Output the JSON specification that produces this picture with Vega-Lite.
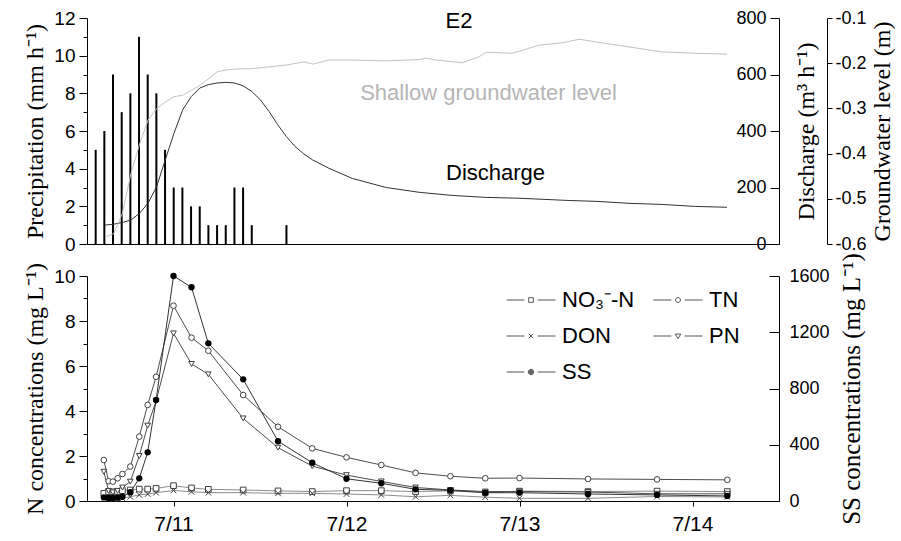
{
  "$schema": "https://vega.github.io/schema/vega-lite/v6.json",
  "padding": {"left": 23, "top": 9, "right": 0, "bottom": 0},
  "background": "white",
  "spacing": 32,
  "bounds": "flush",
  "config": {
    "view": {"stroke": null},
    "axis": {"grid": false, "domainColor": "black", "tickColor": "black", "labelColor": "black", "titleColor": "black", "labelFont": "Liberation Sans", "titleFont": "Liberation Serif", "titleFontWeight": "normal", "domainWidth": 1, "tickWidth": 1}
  },
  "datasets": {
    "precip": [
      {"h": 1, "p": 5}, {"h": 2, "p": 6}, {"h": 3, "p": 9}, {"h": 4, "p": 7}, {"h": 5, "p": 8},
      {"h": 6, "p": 11}, {"h": 7, "p": 9}, {"h": 8, "p": 8}, {"h": 9, "p": 5}, {"h": 10, "p": 3},
      {"h": 11, "p": 3}, {"h": 12, "p": 2}, {"h": 13, "p": 2}, {"h": 14, "p": 1}, {"h": 15, "p": 1},
      {"h": 16, "p": 1}, {"h": 17, "p": 3}, {"h": 18, "p": 3}, {"h": 19, "p": 1}, {"h": 23, "p": 1}
    ],
    "flow": [
      {"h": 2.08, "q": 67}, {"h": 3.07, "q": 70}, {"h": 4.07, "q": 76}, {"h": 5.07, "q": 85},
      {"h": 6.07, "q": 109}, {"h": 7.03, "q": 144}, {"h": 8.03, "q": 203}, {"h": 9.03, "q": 298},
      {"h": 10.03, "q": 392}, {"h": 11.03, "q": 475}, {"h": 12.03, "q": 522}, {"h": 13.0, "q": 552},
      {"h": 14.0, "q": 564}, {"h": 15.0, "q": 570}, {"h": 16.0, "q": 572}, {"h": 17.0, "q": 570},
      {"h": 18.0, "q": 560}, {"h": 19.0, "q": 540}, {"h": 20.0, "q": 510}, {"h": 21.0, "q": 469},
      {"h": 22.0, "q": 422}, {"h": 23.0, "q": 380}, {"h": 24.0, "q": 345}, {"h": 25.0, "q": 319},
      {"h": 26.0, "q": 298}, {"h": 27.9, "q": 268}, {"h": 30.6, "q": 232}, {"h": 34.5, "q": 200},
      {"h": 38.3, "q": 183}, {"h": 42.1, "q": 172}, {"h": 46.0, "q": 165}, {"h": 49.8, "q": 162},
      {"h": 55.6, "q": 154}, {"h": 58.7, "q": 151}, {"h": 62.5, "q": 144}, {"h": 66.3, "q": 140},
      {"h": 70.2, "q": 133}, {"h": 73.8, "q": 130}
    ],
    "gw": [
      {"h": 2.08, "g": -0.585}, {"h": 3.08, "g": -0.577}, {"h": 4.07, "g": -0.533}, {"h": 5.07, "g": -0.444},
      {"h": 6.08, "g": -0.378}, {"h": 7.04, "g": -0.326}, {"h": 8.04, "g": -0.3}, {"h": 9.03, "g": -0.286},
      {"h": 10.03, "g": -0.274}, {"h": 11.04, "g": -0.271}, {"h": 12.03, "g": -0.26}, {"h": 13.03, "g": -0.249},
      {"h": 14.04, "g": -0.234}, {"h": 15.03, "g": -0.219}, {"h": 16.03, "g": -0.215}, {"h": 17.04, "g": -0.213},
      {"h": 19.03, "g": -0.212}, {"h": 21.03, "g": -0.208}, {"h": 23.03, "g": -0.204}, {"h": 25.03, "g": -0.197},
      {"h": 26.03, "g": -0.202}, {"h": 27.91, "g": -0.193}, {"h": 30.56, "g": -0.193}, {"h": 34.49, "g": -0.195},
      {"h": 38.29, "g": -0.192}, {"h": 39.1, "g": -0.189}, {"h": 40.25, "g": -0.193}, {"h": 43.25, "g": -0.199},
      {"h": 45.21, "g": -0.186}, {"h": 46.02, "g": -0.176}, {"h": 49.02, "g": -0.178}, {"h": 50.63, "g": -0.169},
      {"h": 52.13, "g": -0.16}, {"h": 54.79, "g": -0.155}, {"h": 56.75, "g": -0.147}, {"h": 58.71, "g": -0.153},
      {"h": 62.51, "g": -0.164}, {"h": 66.32, "g": -0.175}, {"h": 70.24, "g": -0.178}, {"h": 73.82, "g": -0.18}
    ],
    "conc": [
      {"t": "2013-07-10T14:20", "NO3": 0.34, "TN": 1.82, "DON": 0.10, "PN": 1.30, "SS": 26},
      {"t": "2013-07-10T15:00", "NO3": 0.41, "TN": 0.88, "DON": 0.10, "PN": 0.45, "SS": 22},
      {"t": "2013-07-10T15:35", "NO3": 0.41, "TN": 0.86, "DON": 0.10, "PN": 0.38, "SS": 22},
      {"t": "2013-07-10T16:15", "NO3": 0.42, "TN": 1.01, "DON": 0.10, "PN": 0.45, "SS": 24},
      {"t": "2013-07-10T16:55", "NO3": 0.46, "TN": 1.20, "DON": 0.12, "PN": 0.60, "SS": 30},
      {"t": "2013-07-10T18:00", "NO3": 0.49, "TN": 1.53, "DON": 0.19, "PN": 0.86, "SS": 62},
      {"t": "2013-07-10T19:15", "NO3": 0.53, "TN": 2.86, "DON": 0.27, "PN": 2.00, "SS": 161},
      {"t": "2013-07-10T20:25", "NO3": 0.53, "TN": 4.27, "DON": 0.31, "PN": 3.35, "SS": 346},
      {"t": "2013-07-10T21:35", "NO3": 0.56, "TN": 5.52, "DON": 0.37, "PN": 4.45, "SS": 718},
      {"t": "2013-07-11T00:00", "NO3": 0.68, "TN": 8.68, "DON": 0.47, "PN": 7.45, "SS": 1600},
      {"t": "2013-07-11T02:30", "NO3": 0.58, "TN": 7.26, "DON": 0.41, "PN": 6.09, "SS": 1520},
      {"t": "2013-07-11T04:50", "NO3": 0.52, "TN": 6.68, "DON": 0.37, "PN": 5.63, "SS": 1121},
      {"t": "2013-07-11T09:40", "NO3": 0.49, "TN": 4.71, "DON": 0.37, "PN": 3.67, "SS": 865},
      {"t": "2013-07-11T14:30", "NO3": 0.45, "TN": 3.30, "DON": 0.34, "PN": 2.37, "SS": 425},
      {"t": "2013-07-11T19:15", "NO3": 0.42, "TN": 2.34, "DON": 0.34, "PN": 1.55, "SS": 272},
      {"t": "2013-07-12T00:00", "NO3": 0.46, "TN": 1.94, "DON": 0.31, "PN": 1.15, "SS": 158},
      {"t": "2013-07-12T04:50", "NO3": 0.46, "TN": 1.60, "DON": 0.27, "PN": 0.87, "SS": 126},
      {"t": "2013-07-12T09:35", "NO3": 0.42, "TN": 1.25, "DON": 0.19, "PN": 0.60, "SS": 83},
      {"t": "2013-07-12T14:25", "NO3": 0.45, "TN": 1.10, "DON": 0.25, "PN": 0.49, "SS": 76},
      {"t": "2013-07-12T19:15", "NO3": 0.38, "TN": 1.01, "DON": 0.17, "PN": 0.42, "SS": 59},
      {"t": "2013-07-13T00:00", "NO3": 0.44, "TN": 1.02, "DON": 0.12, "PN": 0.42, "SS": 59},
      {"t": "2013-07-13T09:30", "NO3": 0.42, "TN": 0.98, "DON": 0.12, "PN": 0.40, "SS": 50},
      {"t": "2013-07-13T19:05", "NO3": 0.44, "TN": 0.96, "DON": 0.20, "PN": 0.32, "SS": 43},
      {"t": "2013-07-14T04:50", "NO3": 0.42, "TN": 0.94, "DON": 0.18, "PN": 0.32, "SS": 36}
    ]
  },
  "vconcat": [
    {
      "width": 692,
      "height": 226,
      "encoding": {
        "x": {"field": "h", "type": "quantitative", "scale": {"domain": [0, 79.8], "nice": false, "zero": false},
              "axis": {"title": null, "labels": false, "ticks": false, "domainColor": "black"}}
      },
      "layer": [
        {
          "data": {"name": "precip"},
          "mark": {"type": "rule", "color": "black", "strokeWidth": 2},
          "encoding": {
            "y": {"field": "p", "type": "quantitative", "scale": {"domain": [0, 12], "nice": false},
                  "axis": {"orient": "left", "title": "Precipitation (mm h⁻¹)", "values": [0,1,2,3,4,5,6,7,8,9,10,11,12],
                           "labelExpr": "datum.value % 2 === 0 ? datum.label : ''", "labelOverlap": false,
                           "tickSize": {"condition": {"test": "datum.value % 2 === 0", "value": 8}, "value": 4},
                           "labelPadding": 4, "labelFontSize": 19, "titleFontSize": 24, "titlePadding": 6}},
            "y2": {"datum": 0}
          }
        },
        {
          "data": {"name": "flow"},
          "mark": {"type": "line", "color": "#333333", "strokeWidth": 1},
          "encoding": {
            "y": {"field": "q", "type": "quantitative", "scale": {"domain": [0, 800], "nice": false},
                  "axis": {"orient": "left", "offset": -692, "values": [0, 200, 400, 600, 800], "tickSize": 9, "labelPadding": 4,
                           "labelFontSize": 18, "title": "Discharge (m³ h⁻¹)", "titleFontSize": 24,
                           "titleX": 27, "titleY": 113, "titleAngle": -90, "titleAlign": "center", "titleBaseline": "middle"}}
          }
        },
        {
          "data": {"name": "gw"},
          "mark": {"type": "line", "color": "#c2c2c2", "strokeWidth": 1},
          "encoding": {
            "y": {"field": "g", "type": "quantitative", "scale": {"domain": [-0.6, -0.1], "nice": false, "zero": false},
                  "axis": {"orient": "right", "offset": 48, "values": [-0.6, -0.5, -0.4, -0.3, -0.2, -0.1], "format": ".1f",
                           "labelExpr": "replace(datum.label, '−', '-')",
                           "tickSize": 5, "labelPadding": 3, "labelFontSize": 18,
                           "title": "Groundwater level (m)", "titleFontSize": 24, "titleAngle": -90, "titleBaseline": "top", "titlePadding": 4}}
          }
        },
        {
          "data": {"values": [{"label": "E2", "h": 42.9, "p": 11.85}]},
          "mark": {"type": "text", "font": "Liberation Sans", "fontSize": 22, "color": "black", "align": "center", "baseline": "middle"},
          "encoding": {"text": {"field": "label", "type": "nominal"}, "y": {"field": "p", "type": "quantitative", "scale": {"domain": [0, 12], "nice": false}, "axis": null}}
        },
        {
          "data": {"values": [{"label": "Shallow groundwater level", "h": 31.5, "p": 8.0}]},
          "mark": {"type": "text", "font": "Liberation Sans", "fontSize": 22, "color": "#b5b5b5", "align": "left", "baseline": "middle"},
          "encoding": {"text": {"field": "label", "type": "nominal"}, "y": {"field": "p", "type": "quantitative", "scale": {"domain": [0, 12], "nice": false}, "axis": null}}
        },
        {
          "data": {"values": [{"label": "Discharge", "h": 41.4, "p": 3.78}]},
          "mark": {"type": "text", "font": "Liberation Sans", "fontSize": 22, "color": "black", "align": "left", "baseline": "middle"},
          "encoding": {"text": {"field": "label", "type": "nominal"}, "y": {"field": "p", "type": "quantitative", "scale": {"domain": [0, 12], "nice": false}, "axis": null}}
        }
      ],
      "resolve": {"scale": {"y": "independent"}, "axis": {"y": "independent"}}
    },
    {
      "width": 692,
      "height": 225,
      "data": {"name": "conc"},
      "encoding": {
        "x": {"field": "t", "type": "temporal",
              "scale": {"domain": [{"year": 2013, "month": 7, "date": 10, "hours": 12}, {"year": 2013, "month": 7, "date": 14, "hours": 12}], "nice": false},
              "axis": {"title": null, "values": [{"year": 2013, "month": 7, "date": 11}, {"year": 2013, "month": 7, "date": 12}, {"year": 2013, "month": 7, "date": 13}, {"year": 2013, "month": 7, "date": 14}],
                       "format": "%-m/%-d", "labelFontSize": 21, "tickSize": 5, "labelPadding": 7}}
      },
      "layer": [
        {
          "transform": [{"fold": ["NO3", "TN", "DON", "PN"], "as": ["series", "v"]}],
          "encoding": {
            "y": {"field": "v", "type": "quantitative", "scale": {"domain": [0, 10], "nice": false},
                  "axis": {"title": "N concentrations (mg L⁻¹)", "values": [0,1,2,3,4,5,6,7,8,9,10],
                           "labelExpr": "datum.value % 2 === 0 ? datum.label : ''", "labelOverlap": false,
                           "tickSize": {"condition": {"test": "datum.value % 2 === 0", "value": 8}, "value": 4},
                           "labelPadding": 4, "labelFontSize": 19, "titleFontSize": 24, "titlePadding": 6}}
          },
          "layer": [
            {
              "mark": {"type": "line", "strokeWidth": 1},
              "encoding": {
                "stroke": {"field": "series", "type": "nominal", "scale": {"domain": ["NO3", "TN", "DON", "PN"], "range": ["#8c8c8c", "#4d4d4d", "#8c8c8c", "#4d4d4d"]}, "legend": null}
              }
            },
            {
              "mark": {"type": "point", "fill": "white", "stroke": "#404040", "strokeWidth": 1, "opacity": 1, "size": 32},
              "encoding": {
                "shape": {"field": "series", "type": "nominal", "scale": {"domain": ["NO3", "TN", "DON", "PN"], "range": ["square", "circle", "M-1,-1L1,1M-1,1L1,-1", "triangle-down"]}, "legend": null}
              }
            }
          ]
        },
        {
          "encoding": {
            "y": {"field": "SS", "type": "quantitative", "scale": {"domain": [0, 1600], "nice": false},
                  "axis": {"orient": "right", "values": [0, 400, 800, 1200, 1600], "format": "d", "tickSize": -10, "labelPadding": 20,
                           "labelFontSize": 18, "title": "SS concentrations (mg L⁻¹)", "titleFontSize": 25, "titleAngle": -90, "titleBaseline": "top", "titlePadding": 10}}
          },
          "layer": [
            {"mark": {"type": "line", "color": "#333333", "strokeWidth": 1}},
            {"mark": {"type": "point", "shape": "circle", "filled": true, "color": "black", "size": 40, "opacity": 1}}
          ]
        },
        {
          "transform": [{"fold": ["NO3", "TN", "DON", "PN", "SS"], "as": ["series", "v"]}],
          "mark": {"type": "point", "clip": true, "opacity": 1, "fill": "white", "stroke": "#555555", "strokeWidth": 1},
          "encoding": {
            "x": {"datum": {"year": 2000, "month": 1, "date": 1}, "type": "temporal"},
            "shape": {"field": "series", "type": "nominal",
                      "scale": {"domain": ["NO3", "TN", "DON", "PN", "SS"],
                                "range": ["M-1,0H-0.27M0.27,0H1M-0.095,-0.095H0.095V0.095H-0.095Z",
                                          "M-1,0H-0.27M0.27,0H1M-0.1,0A0.1,0.1 0 1,0 0.1,0A0.1,0.1 0 1,0 -0.1,0Z",
                                          "M-1,0H-0.27M0.27,0H1M-0.09,-0.09L0.09,0.09M-0.09,0.09L0.09,-0.09",
                                          "M-1,0H-0.27M0.27,0H1M-0.11,-0.08H0.11L0,0.11Z",
                                          "M-1,0H-0.27M0.27,0H1M-0.11,0A0.11,0.11 0 1,0 0.11,0A0.11,0.11 0 1,0 -0.11,0ZM-0.085,0A0.085,0.085 0 1,0 0.085,0A0.085,0.085 0 1,0 -0.085,0ZM-0.06,0A0.06,0.06 0 1,0 0.06,0A0.06,0.06 0 1,0 -0.06,0ZM-0.035,0A0.035,0.035 0 1,0 0.035,0A0.035,0.035 0 1,0 -0.035,0ZM-0.015,0A0.015,0.015 0 1,0 0.015,0A0.015,0.015 0 1,0 -0.015,0Z"]},
                      "legend": {"title": null, "orient": "none", "legendX": 419, "legendY": -1, "columns": 2, "direction": "horizontal",
                                 "symbolSize": 2401, "symbolStrokeWidth": 1,
                                 "labelFont": "Liberation Sans", "labelFontSize": 22, "labelColor": "black", "labelOffset": 6,
                                 "rowPadding": -6, "columnPadding": 16, "padding": 0,
                                 "labelExpr": "datum.label == 'NO3' ? 'NO₃⁻-N' : datum.label"}}
          }
        }
      ],
      "resolve": {"scale": {"y": "independent", "shape": "independent", "stroke": "independent"}}
    }
  ]
}
